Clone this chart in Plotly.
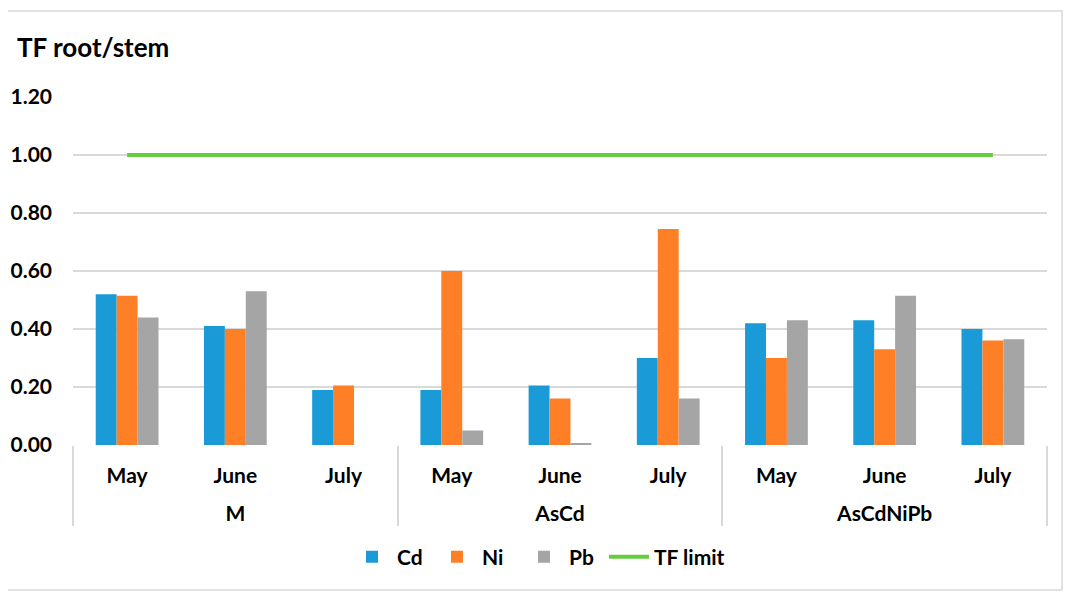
import plotly.graph_objects as go

groups = ["M", "M", "M", "AsCd", "AsCd", "AsCd", "AsCdNiPb", "AsCdNiPb", "AsCdNiPb"]
months = ["May", "June", "July", "May", "June", "July", "May", "June", "July"]

cd = [0.52, 0.41, 0.19, 0.19, 0.205, 0.30, 0.42, 0.43, 0.40]
ni = [0.515, 0.40, 0.205, 0.60, 0.16, 0.745, 0.30, 0.33, 0.36]
pb = [0.44, 0.53, 0.0, 0.05, 0.005, 0.16, 0.43, 0.515, 0.365]
tf_limit = [1.0] * 9

y_ticks = [0.0, 0.2, 0.4, 0.6, 0.8, 1.0, 1.2]

FONT = "Lato"
# group labels get a leading line break so they sit lower, like the reference
x = [["<br>" + g for g in groups], months]

# the page body has an 8px margin; compensate so the plot lands where the reference has it
OFF = 8
W, H = 1072 - 2 * OFF, 601 - 2 * OFF
PL, PR, PT, PB = 73, 1047, 97, 445  # plot area in reference pixels
ml, mt = PL - OFF, PT - OFF
mr = W - (PR - OFF)
mb = H - (PB - OFF)
pw = PR - PL
ph = PB - PT


def px_x(v):
    return (v - PL) / pw


def px_y(v):
    return (PB - v) / ph


fig = go.Figure()
fig.add_trace(go.Bar(name="Cd", x=x, y=cd, legendwidth=30,
                     marker=dict(color="#1A9BD7", line=dict(width=0))))
fig.add_trace(go.Bar(name="Ni", x=x, y=ni, legendwidth=32,
                     marker=dict(color="#FF7F27", line=dict(width=0))))
fig.add_trace(go.Bar(name="Pb", x=x, y=pb, legendwidth=30,
                     marker=dict(color="#A5A5A5", line=dict(width=0))))
fig.add_trace(go.Scatter(name="TF limit", x=x, y=tf_limit, mode="lines", legendwidth=130,
                         line=dict(color="#66CC3F", width=4)))

fig.update_layout(
    width=W, height=H,
    paper_bgcolor="white", plot_bgcolor="white",
    margin=dict(l=ml, r=mr, t=mt, b=mb, autoexpand=False),
    barmode="group", bargap=0.42, bargroupgap=0,
    font=dict(family=FONT, color="#000000", size=21),
    showlegend=True,
    legend=dict(orientation="h", x=px_x(347), xanchor="left", y=px_y(557), yanchor="middle",
                font=dict(family=FONT, size=21, color="#000000", weight="bold"),
                itemwidth=40, traceorder="normal"),
    annotations=[dict(text="<b>TF root/stem</b>", x=px_x(15), y=px_y(47),
                      xref="paper", yref="paper", xanchor="left", yanchor="middle",
                      showarrow=False, font=dict(family=FONT, size=26, color="#000000"))],
)

fig.update_yaxes(range=[0, 1.2], tickvals=y_ticks, tickformat=".2f",
                 showgrid=True, gridcolor="#D9D9D9", gridwidth=1.5,
                 zeroline=False, showline=False,
                 ticklabelstandoff=20,
                 tickfont=dict(family=FONT, size=21, color="#000000", weight="bold"))
fig.update_xaxes(type="multicategory", showgrid=False, showline=False,
                 showdividers=True, dividercolor="#D9D9D9", dividerwidth=1.5,
                 ticks="", ticklabelstandoff=16,
                 tickfont=dict(family=FONT, size=21, color="#000000", weight="bold"))

# outer chart border
fig.add_shape(type="rect", xref="paper", yref="paper",
              x0=px_x(7), x1=px_x(1062), y0=px_y(590), y1=px_y(11),
              line=dict(color="#D9D9D9", width=1.5), fillcolor="rgba(0,0,0,0)", layer="below")

fig.write_html("out.html")
